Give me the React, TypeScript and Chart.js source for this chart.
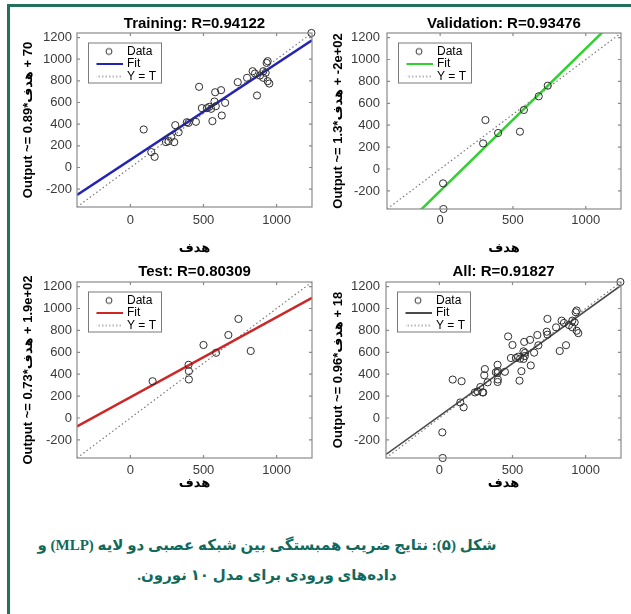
import React, { useEffect, useRef } from "react";
import { Chart, registerables } from "chart.js";

Chart.register(...registerables);

// ---------- data ----------
const AXIS_MIN = -365;
const AXIS_MAX = 1242;
const X_TICKS = [0, 500, 1000];
const Y_TICKS = [-200, 0, 200, 400, 600, 800, 1000, 1200];
const X_TITLE = "هدف";
const LEGEND_LABELS = ["Data", "Fit", "Y = T"];

const TRAIN_TARGETS = [91, 143, 166, 243, 261, 300, 307, 330, 280, 386, 398, 448, 470, 489, 523, 539, 552, 561, 575, 580, 620, 625, 648, 584, 734, 798, 836, 852, 866, 886, 909, 909, 925, 939, 932, 939, 950, 1238];
const TRAIN_OUTPUTS = [351, 142, 98, 234, 243, 234, 391, 326, 283, 418, 412, 422, 745, 548, 548, 560, 542, 428, 609, 695, 714, 480, 597, 566, 788, 828, 889, 868, 665, 849, 828, 889, 874, 982, 966, 797, 775, 1242];
const TRAIN_SLOPE = 0.89;
const TRAIN_INTERCEPT = 70;

const VAL_TARGETS = [20, 23, 295, 311, 398, 548, 575, 677, 739];
const VAL_OUTPUTS = [-131, -365, 234, 447, 329, 341, 539, 664, 761];
const VAL_SLOPE = 1.3;
const VAL_INTERCEPT = -200;

const TEST_TARGETS = [152, 398, 400, 400, 500, 586, 670, 739, 823];
const TEST_OUTPUTS = [336, 486, 428, 352, 667, 596, 758, 905, 612];
const TEST_SLOPE = 0.73;
const TEST_INTERCEPT = 190;

const ALL_TARGETS = [...TRAIN_TARGETS, ...VAL_TARGETS, ...TEST_TARGETS];
const ALL_OUTPUTS = [...TRAIN_OUTPUTS, ...VAL_OUTPUTS, ...TEST_OUTPUTS];
const ALL_SLOPE = 0.96;
const ALL_INTERCEPT = 18;

const TITLES = ["Training: R=0.94122", "Validation: R=0.93476", "Test: R=0.80309", "All: R=0.91827"];
const Y_LABELS = [
  "Output ~= 0.89*هدف\u200E + 70",
  "Output ~= 1.3*هدف\u200E + -2e+02",
  "Output ~= 0.73*هدف\u200E + 1.9e+02",
  "Output ~= 0.96*هدف\u200E + 18",
];

const CAPTION_1 = "شکل (۵): نتایج ضریب همبستگی بین شبکه عصبی دو لایه (MLP) و";
const CAPTION_2 = "داده‌های ورودی برای مدل ۱۰ نورون.";

// ---------- styles ----------
const FONT = "'Liberation Sans', 'DejaVu Sans', sans-serif";
const EDGE = "#8a8a8a";
const TICK_COLOR = "#3a3a3a";

type Box = { left: number; top: number; width: number; height: number };
type Area = { left: number; top: number; right: number; bottom: number };

type PanelProps = {
  title: string;
  yLabel: string;
  targets: number[];
  outputs: number[];
  slope: number;
  intercept: number;
  fitColor: string;
  fitWidth: number;
  box: Box;
  area: Area;
  titleY: number;
  xTickY: number;
  xTitleY: number;
  yTitleX: number;
  yTickGap: number;
};

function makeIcon(kind: string, color: string) {
  const c = document.createElement("canvas");
  c.width = 28;
  c.height = kind === "circle" ? 10 : 4;
  const g = c.getContext("2d")!;
  g.beginPath();
  if (kind === "circle") {
    g.strokeStyle = "#333";
    g.lineWidth = 1;
    g.arc(14, 5, 3, 0, Math.PI * 2);
  } else if (kind === "line") {
    g.strokeStyle = color;
    g.lineWidth = 2;
    g.moveTo(0, 2);
    g.lineTo(28, 2);
  } else {
    g.strokeStyle = "#6f6f6f";
    g.lineWidth = 1;
    g.setLineDash([1.5, 2]);
    g.moveTo(0, 2);
    g.lineTo(28, 2);
  }
  g.stroke();
  return c;
}

function Panel(p: PanelProps) {
  const ref = useRef<HTMLCanvasElement | null>(null);
  useEffect(() => {
    const canvas = ref.current!;
    const titleLH = 18;
    const axisLH = 15.6;
    const tickLH = 15.6;
    const titlePadTop = p.titleY - p.box.top - titleLH / 2;
    const titlePadBottom = Math.max(0, p.area.top - p.box.top - titlePadTop - titleLH);
    const boxBottom = p.box.top + p.box.height;
    const boxRight = p.box.left + p.box.width;

    const icons = [makeIcon("circle", "#333"), makeIcon("line", p.fitColor), makeIcon("dots", "#777")];
    const legendPad = 0.5;

    const boxPlugin = {
      id: "matlabBox",
      afterLayout(chart: any) {
        const lg = chart.legend;
        const a = chart.chartArea;
        if (!lg) return;
        lg.left = a.left + 20 - legendPad;
        lg.top = a.top + 12.5 - legendPad;
        lg.right = lg.left + 80;
        lg.bottom = lg.top + 60;
        lg.width = 80;
        lg.height = 60;
      },
      afterDraw(chart: any) {
        const { ctx, chartArea: a, scales } = chart;
        ctx.save();
        ctx.strokeStyle = EDGE;
        ctx.lineWidth = 1.2;
        ctx.strokeRect(a.left, a.top, a.right - a.left, a.bottom - a.top);
        const L = 3;
        ctx.beginPath();
        scales.x.ticks.forEach((t: any) => {
          const px = scales.x.getPixelForValue(t.value);
          ctx.moveTo(px, a.bottom);
          ctx.lineTo(px, a.bottom - L);
          ctx.moveTo(px, a.top);
          ctx.lineTo(px, a.top + L);
        });
        scales.y.ticks.forEach((t: any) => {
          const py = scales.y.getPixelForValue(t.value);
          ctx.moveTo(a.left, py);
          ctx.lineTo(a.left + L, py);
          ctx.moveTo(a.right, py);
          ctx.lineTo(a.right - L, py);
        });
        ctx.stroke();
        ctx.lineWidth = 1;
        ctx.strokeStyle = "#7a7a7a";
        ctx.strokeRect(a.left + 11.5, a.top + 10, 73, 40);
        ctx.restore();
      },
    };

    const chart = new Chart(canvas, {
      type: "scatter",
      data: {
        datasets: [
          {
            label: LEGEND_LABELS[0],
            data: p.targets.map((t, i) => ({ x: t, y: p.outputs[i] })),
            pointStyle: "circle",
            pointRadius: 3.6,
            pointBorderWidth: 1,
            pointBorderColor: "#2e2e2e",
            pointBackgroundColor: "rgba(0,0,0,0)",
            showLine: false,
            clip: false,
          } as any,
          {
            label: LEGEND_LABELS[1],
            data: [
              { x: AXIS_MIN, y: p.slope * AXIS_MIN + p.intercept },
              { x: AXIS_MAX, y: p.slope * AXIS_MAX + p.intercept },
            ],
            showLine: true,
            borderColor: p.fitColor,
            borderWidth: p.fitWidth,
            pointRadius: 0,
          },
          {
            label: LEGEND_LABELS[2],
            data: [
              { x: AXIS_MIN, y: AXIS_MIN },
              { x: AXIS_MAX, y: AXIS_MAX },
            ],
            showLine: true,
            borderColor: "#7a7a7a",
            borderWidth: 1.2,
            borderDash: [1.5, 2.5],
            pointRadius: 0,
          },
        ],
      },
      options: {
        responsive: false,
        animation: false,
        devicePixelRatio: 1,
        events: [],
        layout: { padding: { left: 0, top: 0, right: boxRight - p.area.right, bottom: 0 } },
        plugins: {
          tooltip: { enabled: false },
          title: {
            display: true,
            text: p.title,
            fullSize: false,
            color: "#000",
            font: { family: FONT, size: 15, weight: "bold", lineHeight: 1.2 },
            padding: { top: titlePadTop, bottom: titlePadBottom },
          },
          legend: {
            display: true,
            position: "chartArea",
            align: "start",
            labels: {
              usePointStyle: true,
              pointStyleWidth: 24,
              padding: legendPad,
              color: "#000",
              textAlign: "left",
              font: { family: FONT, size: 12 },
              generateLabels: () =>
                LEGEND_LABELS.map((text, i) => ({
                  text,
                  pointStyle: icons[i],
                  fillStyle: "rgba(0,0,0,0)",
                  strokeStyle: "rgba(0,0,0,0)",
                  lineWidth: 0,
                  hidden: false,
                  datasetIndex: i,
                  textAlign: "left",
                  fontColor: "#000",
                })),
            },
          } as any,
        },
        scales: {
          x: {
            type: "linear",
            min: AXIS_MIN,
            max: AXIS_MAX,
            afterBuildTicks: (s: any) => {
              s.ticks = X_TICKS.map((v) => ({ value: v }));
            },
            afterFit: (s: any) => {
              s.height = boxBottom - p.area.bottom;
            },
            grid: { display: false, drawTicks: false },
            border: { display: false },
            ticks: {
              padding: p.xTickY - p.area.bottom - tickLH / 2,
              color: TICK_COLOR,
              font: { family: FONT, size: 13 },
              maxRotation: 0,
              autoSkip: false,
              callback: (v: any) => String(v),
            },
            title: {
              display: true,
              text: X_TITLE,
              color: "#000",
              font: { family: FONT, size: 13, weight: "bold" },
              padding: { top: 0, bottom: boxBottom - p.xTitleY - axisLH / 2 },
            },
          },
          y: {
            type: "linear",
            min: AXIS_MIN,
            max: AXIS_MAX,
            afterBuildTicks: (s: any) => {
              s.ticks = Y_TICKS.map((v) => ({ value: v }));
            },
            afterFit: (s: any) => {
              s.width = p.area.left - p.box.left;
            },
            grid: { display: false, drawTicks: false },
            border: { display: false },
            ticks: {
              padding: p.yTickGap,
              color: TICK_COLOR,
              font: { family: FONT, size: 13 },
              autoSkip: false,
              callback: (v: any) => String(v),
            },
            title: {
              display: true,
              text: p.yLabel,
              color: "#000",
              font: { family: FONT, size: 13, weight: "bold" },
              padding: { top: p.yTitleX - p.box.left - axisLH / 2, bottom: 0 },
            },
          },
        },
      } as any,
      plugins: [boxPlugin as any],
    });
    return () => chart.destroy();
  }, []);

  return (
    <canvas
      ref={ref}
      width={p.box.width}
      height={p.box.height}
      style={{
        position: "absolute",
        left: p.box.left,
        top: p.box.top,
        width: p.box.width,
        height: p.box.height,
      }}
    />
  );
}

export default function App() {
  return (
    <div
      style={{
        position: "absolute",
        left: 0,
        top: 0,
        width: 631,
        height: 614,
        overflow: "hidden",
        background: "#fff",
      }}
    >
      <div
        style={{
          position: "absolute",
          left: 7,
          top: 4,
          width: 700,
          height: 700,
          border: "3px solid #23705f",
          boxSizing: "border-box",
        }}
      />
      <Panel
        title={TITLES[0]}
        yLabel={Y_LABELS[0]}
        targets={TRAIN_TARGETS}
        outputs={TRAIN_OUTPUTS}
        slope={TRAIN_SLOPE}
        intercept={TRAIN_INTERCEPT}
        fitColor="#2323b4"
        fitWidth={2.5}
        box={{ left: 10, top: 8, width: 310, height: 250 }}
        area={{ left: 77, top: 33, right: 312, bottom: 207 }}
        titleY={24}
        xTickY={220}
        xTitleY={248}
        yTitleX={28}
        yTickGap={5}
      />
      <Panel
        title={TITLES[1]}
        yLabel={Y_LABELS[1]}
        targets={VAL_TARGETS}
        outputs={VAL_OUTPUTS}
        slope={VAL_SLOPE}
        intercept={VAL_INTERCEPT}
        fitColor="#2fd12f"
        fitWidth={2.5}
        box={{ left: 320, top: 8, width: 311, height: 250 }}
        area={{ left: 387, top: 33, right: 621, bottom: 209 }}
        titleY={24}
        xTickY={220}
        xTitleY={248}
        yTitleX={338}
        yTickGap={7}
      />
      <Panel
        title={TITLES[2]}
        yLabel={Y_LABELS[2]}
        targets={TEST_TARGETS}
        outputs={TEST_OUTPUTS}
        slope={TEST_SLOPE}
        intercept={TEST_INTERCEPT}
        fitColor="#cc2626"
        fitWidth={2.5}
        box={{ left: 10, top: 258, width: 310, height: 235 }}
        area={{ left: 77, top: 282, right: 312, bottom: 458 }}
        titleY={272}
        xTickY={470}
        xTitleY={483}
        yTitleX={28}
        yTickGap={5}
      />
      <Panel
        title={TITLES[3]}
        yLabel={Y_LABELS[3]}
        targets={ALL_TARGETS}
        outputs={ALL_OUTPUTS}
        slope={ALL_SLOPE}
        intercept={ALL_INTERCEPT}
        fitColor="#4a4a4a"
        fitWidth={1.6}
        box={{ left: 320, top: 258, width: 311, height: 235 }}
        area={{ left: 386, top: 282, right: 621, bottom: 458 }}
        titleY={272}
        xTickY={470}
        xTitleY={483}
        yTitleX={338}
        yTickGap={6}
      />
      <div
        dir="rtl"
        style={{
          position: "absolute",
          left: 0,
          top: 530,
          width: 534,
          textAlign: "center",
          whiteSpace: "nowrap",
          fontFamily: "'Liberation Serif', 'DejaVu Sans', serif",
          fontWeight: "bold",
          fontSize: 15,
          lineHeight: "30px",
          color: "#11695c",
        }}
      >
        {CAPTION_1}
        <br />
        {CAPTION_2}
      </div>
    </div>
  );
}
